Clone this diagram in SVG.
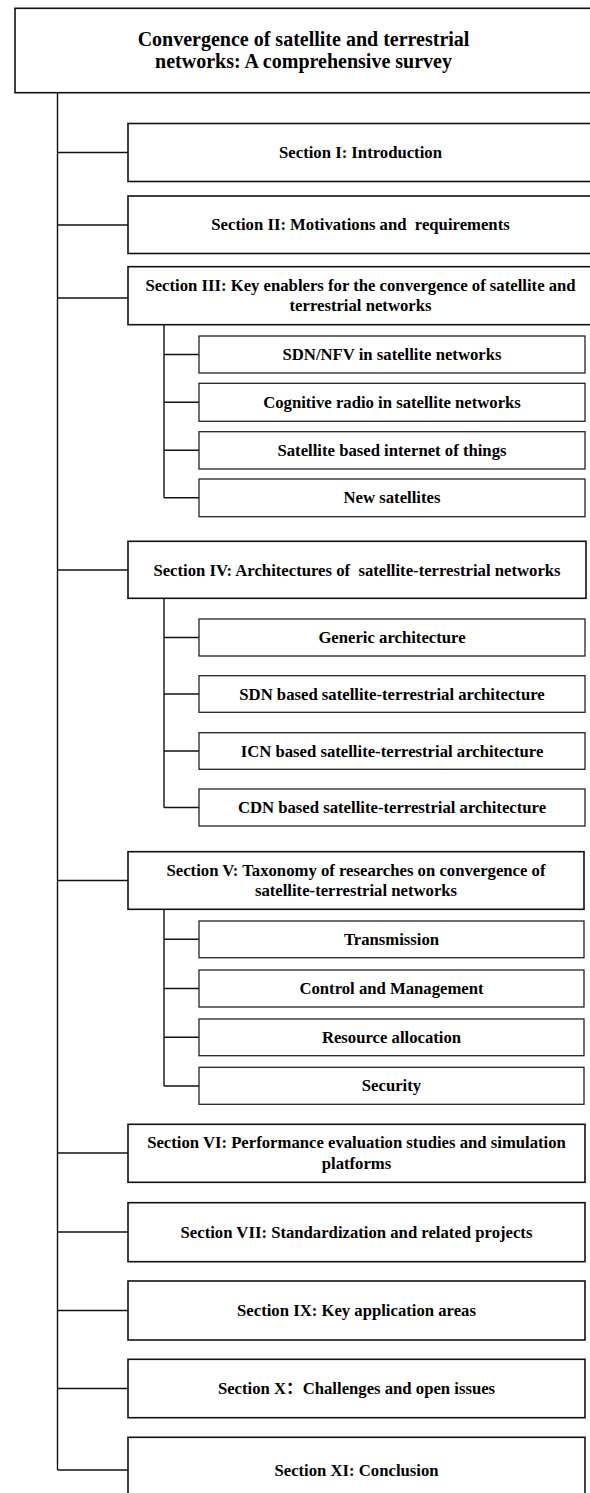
<svg xmlns="http://www.w3.org/2000/svg" width="590" height="1493" viewBox="0 0 590 1493">
<style>
  .main { fill: #fff; stroke: #111; stroke-width: 1.6; }
  .sub { fill: #fff; stroke: #222; stroke-width: 1.3; }
  .conn { stroke: #111; stroke-width: 1.4; fill: none; }
  .t { font-family: "Liberation Serif", "Times New Roman", "Noto Sans CJK SC", serif; font-weight: bold; font-size: 16.7px; fill: #000; text-anchor: middle; }
  .title { font-size: 20px; }
</style>
<rect width="590" height="1493" fill="#fff"/>

<g id="connectors">
  <line class="conn" x1="57.5" y1="92.7" x2="57.5" y2="1470"/>
  <line class="conn" x1="57.5" y1="152.5" x2="128" y2="152.5"/>
  <line class="conn" x1="57.5" y1="225" x2="128" y2="225"/>
  <line class="conn" x1="57.5" y1="298" x2="128" y2="298"/>
  <line class="conn" x1="57.5" y1="570" x2="128" y2="570"/>
  <line class="conn" x1="57.5" y1="880.5" x2="128" y2="880.5"/>
  <line class="conn" x1="57.5" y1="1153" x2="128" y2="1153"/>
  <line class="conn" x1="57.5" y1="1232" x2="128" y2="1232"/>
  <line class="conn" x1="57.5" y1="1310.5" x2="128" y2="1310.5"/>
  <line class="conn" x1="57.5" y1="1388.5" x2="128" y2="1388.5"/>
  <line class="conn" x1="57.5" y1="1470" x2="128" y2="1470"/>
  <!-- Section III sub-branches -->
  <line class="conn" x1="164" y1="324.7" x2="164" y2="497.8"/>
  <line class="conn" x1="164" y1="354.5" x2="199" y2="354.5"/>
  <line class="conn" x1="164" y1="402.3" x2="199" y2="402.3"/>
  <line class="conn" x1="164" y1="450.3" x2="199" y2="450.3"/>
  <line class="conn" x1="164" y1="497.8" x2="199" y2="497.8"/>
  <!-- Section IV sub-branches -->
  <line class="conn" x1="164" y1="598.3" x2="164" y2="807.5"/>
  <line class="conn" x1="164" y1="637.5" x2="199" y2="637.5"/>
  <line class="conn" x1="164" y1="694" x2="199" y2="694"/>
  <line class="conn" x1="164" y1="751" x2="199" y2="751"/>
  <line class="conn" x1="164" y1="807.5" x2="199" y2="807.5"/>
  <!-- Section V sub-branches -->
  <line class="conn" x1="164" y1="909.3" x2="164" y2="1086"/>
  <line class="conn" x1="164" y1="939.3" x2="199" y2="939.3"/>
  <line class="conn" x1="164" y1="988.5" x2="199" y2="988.5"/>
  <line class="conn" x1="164" y1="1037.3" x2="199" y2="1037.3"/>
  <line class="conn" x1="164" y1="1086" x2="199" y2="1086"/>
</g>

<g id="title">
  <rect class="main" x="15" y="8.3" width="577" height="84.4"/>
  <text class="t title" x="303.5" y="45.5">Convergence of satellite and terrestrial</text>
  <text class="t title" x="303.5" y="67.5">networks: A comprehensive survey</text>
</g>

<g id="sec1">
  <rect class="main" x="128" y="123.5" width="465" height="58"/>
  <text class="t" x="360.5" y="157.5">Section I: Introduction</text>
</g>
<g id="sec2">
  <rect class="main" x="128" y="196" width="465" height="57.5"/>
  <text class="t" x="360.5" y="230" xml:space="preserve">Section II: Motivations and  requirements</text>
</g>
<g id="sec3">
  <rect class="main" x="128" y="266.7" width="465" height="58"/>
  <text class="t" x="360.5" y="290.7">Section III: Key enablers for the convergence of satellite and</text>
  <text class="t" x="360.5" y="311.2">terrestrial networks</text>
</g>
<g id="sec3-1">
  <rect class="sub" x="199" y="336" width="386" height="37"/>
  <text class="t" x="392" y="360">SDN/NFV in satellite networks</text>
</g>
<g id="sec3-2">
  <rect class="sub" x="199" y="383.3" width="386" height="38"/>
  <text class="t" x="392" y="407.8">Cognitive radio in satellite networks</text>
</g>
<g id="sec3-3">
  <rect class="sub" x="199" y="431.7" width="386" height="37.3"/>
  <text class="t" x="392" y="455.8">Satellite based internet of things</text>
</g>
<g id="sec3-4">
  <rect class="sub" x="199" y="479" width="386" height="37.7"/>
  <text class="t" x="392" y="503.3">New satellites</text>
</g>

<g id="sec4">
  <rect class="main" x="128" y="541.3" width="458" height="57"/>
  <text class="t" x="357" y="575.5" xml:space="preserve">Section IV: Architectures of  satellite-terrestrial networks</text>
</g>
<g id="sec4-1">
  <rect class="sub" x="199" y="619" width="386" height="37"/>
  <text class="t" x="392" y="643">Generic architecture</text>
</g>
<g id="sec4-2">
  <rect class="sub" x="199" y="675.7" width="386" height="36.6"/>
  <text class="t" x="392" y="699.5">SDN based satellite-terrestrial architecture</text>
</g>
<g id="sec4-3">
  <rect class="sub" x="199" y="732.7" width="386" height="36.6"/>
  <text class="t" x="392" y="756.5">ICN based satellite-terrestrial architecture</text>
</g>
<g id="sec4-4">
  <rect class="sub" x="199" y="789" width="386" height="37"/>
  <text class="t" x="392" y="813">CDN based satellite-terrestrial architecture</text>
</g>

<g id="sec5">
  <rect class="main" x="128" y="851.7" width="456" height="57.6"/>
  <text class="t" x="356" y="875.5">Section V: Taxonomy of researches on convergence of</text>
  <text class="t" x="356" y="896">satellite-terrestrial networks</text>
</g>
<g id="sec5-1">
  <rect class="sub" x="199" y="921" width="385" height="36.7"/>
  <text class="t" x="391.5" y="944.8">Transmission</text>
</g>
<g id="sec5-2">
  <rect class="sub" x="199" y="970" width="385" height="37"/>
  <text class="t" x="391.5" y="994">Control and Management</text>
</g>
<g id="sec5-3">
  <rect class="sub" x="199" y="1019" width="385" height="36.7"/>
  <text class="t" x="391.5" y="1042.8">Resource allocation</text>
</g>
<g id="sec5-4">
  <rect class="sub" x="199" y="1067.3" width="385" height="37"/>
  <text class="t" x="391.5" y="1091.3">Security</text>
</g>

<g id="sec6">
  <rect class="main" x="128" y="1124.3" width="457" height="58"/>
  <text class="t" x="356.5" y="1148.3">Section VI: Performance evaluation studies and simulation</text>
  <text class="t" x="356.5" y="1168.8">platforms</text>
</g>
<g id="sec7">
  <rect class="main" x="128" y="1202.7" width="457" height="59"/>
  <text class="t" x="356.5" y="1237.5">Section VII: Standardization and related projects</text>
</g>
<g id="sec9">
  <rect class="main" x="128" y="1281" width="457" height="59"/>
  <text class="t" x="356.5" y="1316">Section IX: Key application areas</text>
</g>
<g id="sec10">
  <rect class="main" x="128" y="1359.3" width="457" height="58.4"/>
  <text class="t" x="356.5" y="1394">Section X：Challenges and open issues</text>
</g>
<g id="sec11">
  <rect class="main" x="128" y="1437.3" width="457" height="66"/>
  <text class="t" x="356.5" y="1475.5">Section XI: Conclusion</text>
</g>
</svg>
